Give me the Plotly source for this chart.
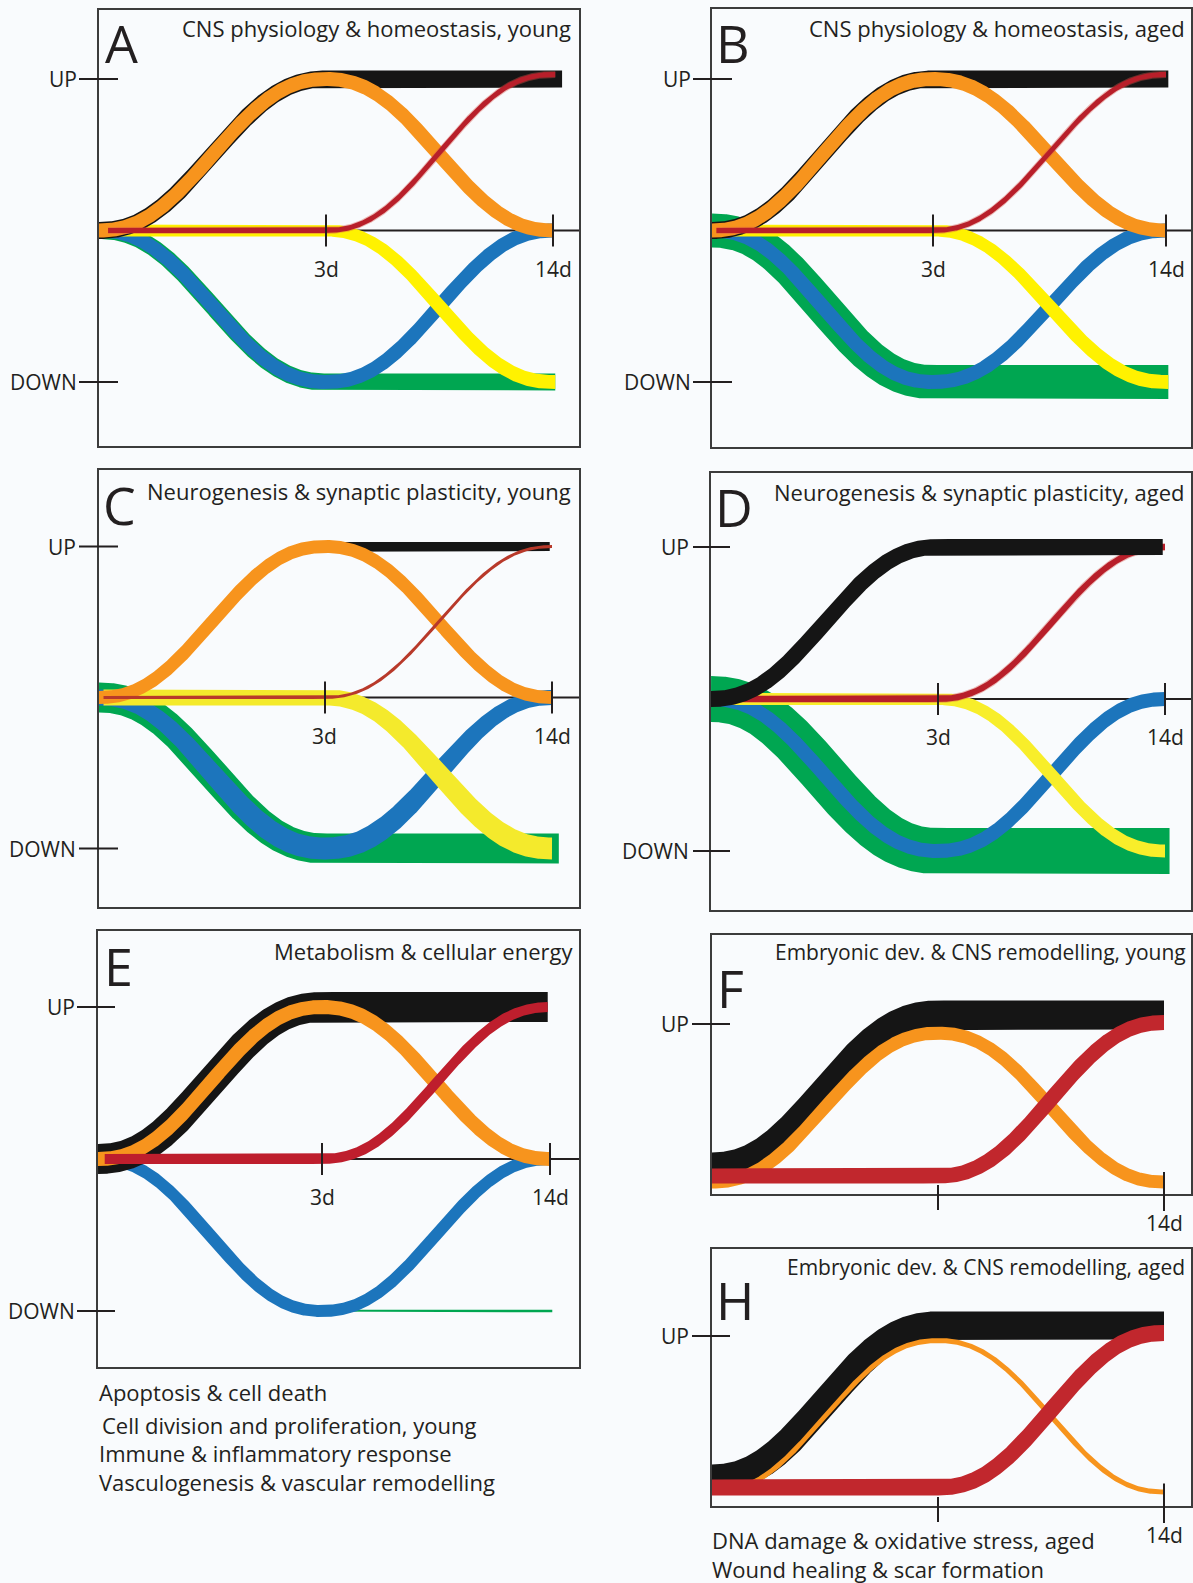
import numpy as np
import plotly.graph_objects as go

W, H = 1193, 1583

# ---------------- data: schematic expression levels at [0, 3d, 14d] ----------------
# +1 = UP, 0 = baseline, -1 = DOWN
TIMEPOINTS = ["0", "3d", "14d"]
TICK_LABELS = ["3d", "14d"]
Y_LABELS = ["UP", "DOWN"]

A_green = [0, -1, -1]
A_blue = [0, -1, 0]
A_yellow = [0, 0, -1]
A_black = [0, 1, 1]
A_orange = [0, 1, 0]
A_red = [0, 0, 1.03]

B_green = [0, -1, -1]
B_blue = [0, -1, 0]
B_yellow = [0, 0, -1]
B_black = [0, 1, 1]
B_orange = [0, 1, 0]
B_red = [0, 0, 1.03]

C_green = [0, -1, -1]
C_blue = [0, -1, 0]
C_yellow = [0, 0, -1]
C_black = [0, 1, 1]
C_orange = [0, 1, 0]
C_red = [0, 0, 1]

D_green = [0, -1, -1]
D_blue = [0, -1, 0]
D_yellow = [0, 0, -1]
D_black = [0, 1, 1]
D_red = [0, 0, 1]

E_green = [0, -1, -1]
E_blue = [0, -1, 0]
E_black = [0, 1, 1]
E_orange = [0, 1, 0]
E_red = [0, 0, 1]

F_black = [0.06, 1.06, 1.06]
F_orange = [-0.04, 0.94, -0.04]
F_red = [0, 0, 1.01]

H_black = [0.06, 1.07, 1.07]
H_orange = [-0.03, 0.97, -0.03]
H_red = [0, 0, 1.02]

PANEL_TITLES = {
    "A": "CNS physiology & homeostasis, young",
    "B": "CNS physiology & homeostasis, aged",
    "C": "Neurogenesis & synaptic plasticity, young",
    "D": "Neurogenesis & synaptic plasticity, aged",
    "E": "Metabolism & cellular energy",
    "F": "Embryonic dev. & CNS remodelling, young",
    "H": "Embryonic dev. & CNS remodelling, aged",
}
LEFT_NOTES = [
    "Apoptosis & cell death",
    "Cell division and proliferation, young",
    "Immune & inflammatory response",
    "Vasculogenesis & vascular remodelling",
]
RIGHT_NOTES = [
    "DNA damage & oxidative stress, aged",
    "Wound healing & scar formation",
]

# ---------------- style / layout ----------------
COLORS = dict(black="#151515", orange="#f7941d", red="#b81f2a", yellow="#fff200",
              green="#00a651", blue="#1c75bc")
TEXT = "#231f20"
FONT = "Open Sans, Noto Sans, sans-serif"
BG = "#f9fbfd"

# left, right, top, bottom (px)
BOX = {
    "A": (99, 579, 10, 446), "B": (712, 1191, 9, 447),
    "C": (99, 579, 470, 907), "D": (711, 1191, 473, 910),
    "E": (98, 579, 931, 1367), "F": (712, 1191, 935, 1194),
    "H": (712, 1191, 1249, 1506),
}
# baseline y, px per level, x of 3d, x of 14d
SCALE = {
    "A": (230.5, 151.5, 326, 553), "B": (230.5, 151.5, 933, 1166),
    "C": (697.5, 151.0, 325, 552), "D": (699.0, 152.0, 938, 1165),
    "E": (1159.0, 152.0, 322, 550), "F": (1176.0, 152.0, 938, 1164),
    "H": (1487.5, 151.5, 938, 1164),
}
# (series key, level data, width px at [0,3d,14d], start, end, colour override)
BANDS = {
    "A": [("green", A_green, 17, 0, 2.01, None), ("blue", A_blue, 14, 0, 2.0, None),
          ("yellow", A_yellow, (12, 12, 14), 0.02, 2.01, None), ("black", A_black, 17, 0, 2.04, None),
          ("orange", A_orange, 14, 0, 2.0, None), ("red", A_red, 5, 0.04, 2.01, None)],
    "B": [("green", B_green, 34, 0, 2.01, None), ("blue", B_blue, 14, 0, 2.0, None),
          ("yellow", B_yellow, (12, 12, 14), 0.02, 2.01, None), ("black", B_black, 17, 0, 2.01, None),
          ("orange", B_orange, 14, 0, 2.0, None), ("red", B_red, 5, 0.02, 2.0, None)],
    "C": [("green", C_green, 30, 0, 2.03, None), ("blue", C_blue, (16, 22, 15), 0, 2.0, None),
          ("yellow", C_yellow, (16, 16, 22), 0.02, 2.0, "#f4ea2c"), ("black", C_black, 9, 0, 1.99, None),
          ("orange", C_orange, 13, 0, 2.0, None), ("red", C_red, 3, 0.02, 2.0, "#b8392a")],
    "D": [("green", D_green, 46, 0, 2.02, None), ("blue", D_blue, 14, 0, 2.0, None),
          ("yellow", D_yellow, (12, 12, 13), 0.08, 2.0, "#f8ee2a"), ("red", D_red, 6, 0.1, 2.0, None),
          ("black", D_black, 16, 0, 1.99, None)],
    "E": [("green", E_green, 2.5, 0, 2.01, None), ("blue", E_blue, 12, 0, 2.0, None),
          ("black", E_black, 30, 0, 1.99, None), ("orange", E_orange, 14, 0, 2.0, None),
          ("red", E_red, 10, 0.03, 1.99, "#be1e2d")],
    "F": [("black", F_black, 29, 0, 2.0, None), ("orange", F_orange, 13, 0, 2.0, None),
          ("red", F_red, 15, 0, 2.0, "#c1272d")],
    "H": [("black", H_black, 28, 0, 2.0, None), ("orange", H_orange, 5, 0, 2.0, None),
          ("red", H_red, 16, 0, 2.0, "#c1272d")],
}
HALO = {"A", "B", "D"}
LETTER_POS = {"A": (121, 42), "B": (733, 42), "C": (120, 504), "D": (734, 506),
              "E": (118, 965), "F": (730, 987), "H": (735, 1299)}
TITLE_POS = {"A": (573, 28), "B": (1187, 28), "C": (573, 491), "D": (1187, 492),
             "E": (575, 951), "F": (1188, 952), "H": (1187, 1267)}
TITLE_SIZE = {"A": 22, "B": 22, "C": 22, "D": 22, "E": 22, "F": 21, "H": 21}
# y-label anchor x (right end of text), tick x0, tick x1
YTICK = {"A": (79, 79, 118), "B": (693, 693, 732), "C": (78, 79, 118), "D": (691, 693, 730),
         "E": (77, 77, 115), "F": (691, 692, 730), "H": (691, 692, 730)}
ORDER = ["A", "B", "C", "D", "E", "F", "H"]


def ease(vals, s):
    vals = np.broadcast_to(np.asarray(vals, float), (3,))
    s = np.clip(s, 0, 2)
    i = np.minimum(np.floor(s).astype(int), 1)
    t = s - i
    f_cos = (1 - np.cos(np.pi * t)) / 2
    f_sm = t ** 3 * (t * (6 * t - 15) + 10)
    f = 0.5 * f_cos + 0.5 * f_sm
    return vals[i] + (vals[i + 1] - vals[i]) * f


def band_xy(levels, widths, start, end, left, ppu, x3, x14):
    s = np.linspace(start, end, 500)
    lvl = ease(levels, s)
    w = ease(widths, s)
    xp = np.where(s <= 1, s * (x3 - left), (x3 - left) + (s - 1) * (x14 - x3))
    yu = lvl * ppu
    dx = np.gradient(xp)
    dy = np.gradient(yu)
    n = np.hypot(dx, dy)
    nx, ny = -dy / n, dx / n
    ux, uy = xp + nx * w / 2, yu + ny * w / 2
    lx, ly = xp - nx * w / 2, yu - ny * w / 2
    xs = np.concatenate([ux, lx[::-1], ux[:1]])
    ys = np.concatenate([uy, ly[::-1], uy[:1]]) / ppu
    return xs, ys


def px(x):
    return x / W


def py(y):
    return 1 - y / H


fig = go.Figure()
shapes = []
annotations = []

for k, name in enumerate(ORDER, start=1):
    left, right, top, bottom = BOX[name]
    base, ppu, x3, x14 = SCALE[name]
    xr = "x" if k == 1 else f"x{k}"
    yr = "y" if k == 1 else f"y{k}"
    axis_common = dict(showline=True, mirror=True, linecolor="#3c3c3c", linewidth=1.5,
                       showgrid=False, zeroline=False, showticklabels=False, ticks="",
                       fixedrange=True, layer="below traces")
    fig.update_layout(**{
        ("xaxis" if k == 1 else f"xaxis{k}"): dict(domain=[px(left), px(right)], range=[0, right - left],
                                                   anchor=yr, **axis_common),
        ("yaxis" if k == 1 else f"yaxis{k}"): dict(domain=[py(bottom), py(top)],
                                                   range=[(base - bottom) / ppu, (base - top) / ppu],
                                                   anchor=xr, **axis_common),
    })

    for key, levels, widths, start, end, col in BANDS[name]:
        color = col or COLORS[key]
        if key == "red" and name in HALO:
            hx, hy = band_xy(levels, np.asarray(widths) + 2, start, end, left, ppu, x3, x14)
            fig.add_trace(go.Scatter(x=hx, y=hy, fill="toself", fillcolor="rgba(214,84,72,0.4)",
                                     mode="lines", line=dict(width=0), hoverinfo="skip",
                                     showlegend=False, xaxis=xr, yaxis=yr))
        bx, by = band_xy(levels, widths, start, end, left, ppu, x3, x14)
        fig.add_trace(go.Scatter(x=bx, y=by, fill="toself", fillcolor=color, mode="lines",
                                 line=dict(width=0), hoverinfo="skip", showlegend=False,
                                 xaxis=xr, yaxis=yr, name=f"{name} {key}"))

    # baseline + 3d/14d ticks
    if name in ("F", "H"):
        shapes.append(dict(type="line", xref="paper", yref="paper", x0=px(x3), x1=px(x3),
                           y0=py(bottom - 9), y1=py(bottom + 16), line=dict(color="#231f20", width=2),
                           layer="above"))
        shapes.append(dict(type="line", xref="paper", yref="paper", x0=px(x14), x1=px(x14),
                           y0=py(base - 4), y1=py(bottom + 17), line=dict(color="#231f20", width=2),
                           layer="above"))
        annotations.append(dict(text=TICK_LABELS[1], x=px(x14), y=py(bottom + 29), xref="paper",
                                yref="paper", showarrow=False, xanchor="center", yanchor="middle",
                                font=dict(family=FONT, size=21, color=TEXT)))
    else:
        shapes.append(dict(type="line", xref="paper", yref="paper", x0=px(left), x1=px(right),
                           y0=py(base), y1=py(base), line=dict(color="#231f20", width=2), layer="below"))
        for lab, xt in zip(TICK_LABELS, (x3, x14)):
            shapes.append(dict(type="line", xref="paper", yref="paper", x0=px(xt), x1=px(xt),
                               y0=py(base - 16), y1=py(base + 16), line=dict(color="#231f20", width=2),
                               layer="above"))
            annotations.append(dict(text=lab, x=px(xt), y=py(base + 38), xref="paper", yref="paper",
                                    showarrow=False, xanchor="center", yanchor="middle",
                                    font=dict(family=FONT, size=21, color=TEXT)))

    # UP / DOWN ticks
    lab_x, t0, t1 = YTICK[name]
    levels_y = [1, -1] if name not in ("F", "H") else [1]
    for lab, lv in zip(Y_LABELS, levels_y):
        yy = base - lv * ppu
        shapes.append(dict(type="line", xref="paper", yref="paper", x0=px(t0), x1=px(t1),
                           y0=py(yy), y1=py(yy), line=dict(color="#231f20", width=2), layer="above"))
        annotations.append(dict(text=lab, x=px(lab_x), y=py(yy), xref="paper", yref="paper",
                                showarrow=False, xanchor="right", yanchor="middle",
                                font=dict(family=FONT, size=21, color=TEXT)))

    # panel letter and title
    lx, ly = LETTER_POS[name]
    annotations.append(dict(text=name, x=px(lx), y=py(ly), xref="paper", yref="paper", showarrow=False,
                            xanchor="center", yanchor="middle",
                            font=dict(family=FONT, size=52, color=TEXT)))
    tx, ty = TITLE_POS[name]
    annotations.append(dict(text=PANEL_TITLES[name], x=px(tx), y=py(ty), xref="paper", yref="paper",
                            showarrow=False, xanchor="right", yanchor="middle",
                            font=dict(family=FONT, size=TITLE_SIZE[name], color=TEXT)))

for txt, (xx, yy) in zip(LEFT_NOTES, [(97, 1392), (100, 1425), (97, 1453), (97, 1482)]):
    annotations.append(dict(text=txt, x=px(xx), y=py(yy), xref="paper", yref="paper", showarrow=False,
                            xanchor="left", yanchor="middle", font=dict(family=FONT, size=22, color=TEXT)))
for txt, (xx, yy) in zip(RIGHT_NOTES, [(710, 1540), (710, 1569)]):
    annotations.append(dict(text=txt, x=px(xx), y=py(yy), xref="paper", yref="paper", showarrow=False,
                            xanchor="left", yanchor="middle", font=dict(family=FONT, size=22, color=TEXT)))

fig.update_layout(width=W, height=H, margin=dict(l=0, r=0, t=0, b=0), paper_bgcolor=BG,
                  plot_bgcolor="rgba(0,0,0,0)", shapes=shapes, annotations=annotations,
                  showlegend=False)

fig.write_html("out.html", config={"displayModeBar": False},
               post_script="document.body.style.margin='0px';")
